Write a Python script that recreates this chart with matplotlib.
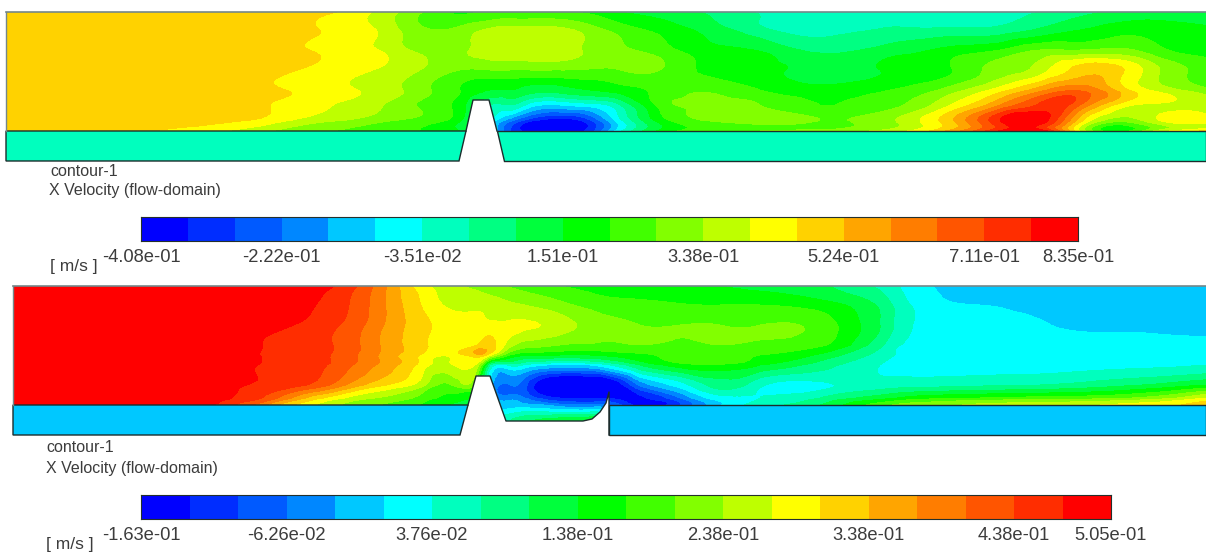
import numpy as np
import matplotlib
matplotlib.use("Agg")
import matplotlib.pyplot as plt
import matplotlib.tri as mtri
from matplotlib.colors import ListedColormap
from matplotlib.patches import Polygon

plt.rcParams['font.family'] = ['Liberation Sans', 'DejaVu Sans']

# Contour band number at each grid node (0 = lowest legend band, 19 = highest)
top_x = [6,100,200,260,300,340,380,420,460,490,510,530,560,590,620,660,700,760,820,880,920,960,1000,1040,1080,1120,1160,1206]
top_y = [12,30,50,70,90,105,120,131]
top_field = [
 [14.6,14.6,14.6,14.6,14.5,13.94,12.7,11.1,9.8,10.2,10.2,10.1,10.0,9.8,9.0,8.5,8.0,6.9,6.5,6.4,6.4,6.5,6.7,7.0,7.6,8.2,8.4,8.5],
 [14.6,14.6,14.6,14.6,14.3,13.72,12.86,11.25,11.3,12.2,12.4,12.4,12.3,11.5,10.6,9.7,8.8,7.3,6.6,7.1,7.2,7.3,7.4,8.2,9.0,9.6,9.5,9.2],
 [14.6,14.6,14.6,14.6,14.15,13.6,12.97,11.7,11.7,12.5,12.6,12.6,12.5,11.8,11.2,10.5,9.5,8.9,7.7,8.3,8.8,9.5,10.0,11.0,11.0,11.2,10.2,9.7],
 [14.6,14.6,14.6,14.45,13.96,13.45,12.88,12.0,11.0,11.0,11.0,11.0,11.0,10.9,11.0,11.0,9.9,9.3,8.7,9.0,9.5,10.2,11.5,12.5,14.5,14.2,12.0,10.5],
 [14.6,14.6,14.6,14.3,13.8,13.25,12.57,11.4,10.0,9.0,9.0,8.5,8.5,9.0,9.5,10.3,10.9,10.0,9.3,9.8,10.5,11.8,13.5,15.6,16.8,14.6,12.6,11.3],
 [14.6,14.6,14.6,14.15,13.55,12.9,12.1,10.9,9.5,7.0,7.0,5.5,5.0,5.5,7.0,10.3,11.2,11.0,10.0,10.5,11.5,13.5,16.0,18.2,17.0,13.6,12.8,12.2],
 [14.6,14.6,14.5,13.85,12.8,12.1,11.35,10.7,9.2,6.0,3.5,1.5,0.5,2.0,5.8,9.5,11.0,11.5,11.0,11.5,13.0,15.5,19.0,19.8,14.5,11.5,13.1,13.4],
 [14.5,14.4,13.5,12.25,11.4,10.9,10.5,10.0,9.0,5.5,2.0,0.5,0.1,1.5,5.8,9.2,10.5,11.0,11.2,12.2,13.5,16.0,19.1,19.8,13.0,9.5,12.5,14.1],
]

bot_x = [13,100,200,260,300,340,380,420,450,475,490,510,530,560,590,610,640,680,720,760,820,880,920,980,1040,1100,1160,1206]
bot_y = [286,305,325,345,355,365,385,398,405,421]
bot_field = [
 [19.9,19.9,19.9,19.9,19.6,18.8,16.5,13.5,12.5,11.7,11.2,10.9,10.5,10.0,9.7,9.5,9.3,9.1,9.0,8.7,8.2,6.8,5.2,4.6,4.5,4.5,4.5,4.5],
 [19.9,19.9,19.9,19.9,19.3,18.35,16.35,14.05,12.85,12.8,12.6,12.2,11.9,11.3,10.7,10.4,10.3,10.1,10.0,10.0,9.5,7.8,5.6,5.0,4.5,4.5,4.5,4.5],
 [19.9,19.9,19.9,19.6,18.9,18.0,16.2,14.45,13.5,13.4,13.3,13.2,13.1,12.5,11.7,11.3,11.0,11.0,11.0,11.0,10.6,8.0,5.8,5.6,5.1,4.8,4.8,4.8],
 [19.9,19.9,19.9,19.05,18.45,17.8,16.0,14.3,13.5,13.8,14.3,12.4,11.5,11.0,10.9,10.8,11.0,10.8,11.0,10.8,10.2,7.3,5.5,5.4,5.4,5.4,5.3,5.2],
 [19.9,19.9,19.85,19.0,18.4,17.7,15.9,14.0,13.3,14.6,13.2,10.0,9.2,9.0,9.0,9.3,9.8,10.4,10.4,10.0,8.8,6.6,5.5,5.5,5.5,5.5,5.5,5.6],
 [19.9,19.9,19.8,18.95,18.4,17.55,15.8,13.7,12.8,13.0,7.0,6.2,5.5,4.8,5.0,6.0,8.0,9.5,9.8,9.0,7.5,6.0,5.5,5.6,5.6,5.7,5.8,6.0],
 [19.9,19.9,19.8,18.85,18.2,16.35,14.25,12.5,10.9,11.0,4.5,3.0,1.5,-1.0,-1.0,-0.5,3.2,5.5,7.5,6.2,5.8,6.4,6.6,6.8,7.0,7.5,8.2,9.0],
 [19.9,19.9,19.6,18.1,15.35,13.2,11.9,10.7,9.7,8.5,4.5,3.5,2.5,1.0,0.8,0.8,0.8,3.0,5.6,6.0,7.0,8.5,9.5,10.0,10.3,10.6,11.5,13.0],
 [19.8,19.7,19.4,16.5,13.7,12.0,11.0,10.0,9.0,8.0,5.0,4.5,4.3,3.5,3.2,3.0,0.5,2.0,4.9,6.5,8.0,10.5,11.5,12.2,12.5,13.0,13.6,14.5],
 [19.8,19.7,19.4,16.5,13.7,12.0,11.0,10.0,9.0,8.0,6.5,7.0,8.0,8.8,9.0,9.0,0.5,2.0,4.9,6.5,8.0,10.5,11.5,12.2,12.5,13.0,13.6,14.5],
]

band_colors = ['#0000ff','#002dff','#005aff','#0087ff','#00c8ff','#00ffff','#00ffbe','#00ff82','#00ff3c','#00ff00',
               '#41ff00','#82ff00','#beff00','#ffff00','#ffd200','#ffa500','#ff7d00','#ff5500','#ff2d00','#ff0000']
band_numbers = list(range(21))

top_tick_labels = ['-4.08e-01','-2.22e-01','-3.51e-02','1.51e-01','3.38e-01','5.24e-01','7.11e-01','8.35e-01']
bot_tick_labels = ['-1.63e-01','-6.26e-02','3.76e-02','1.38e-01','2.38e-01','3.38e-01','4.38e-01','5.05e-01']
top_tick_bands = [0,3,6,9,12,15,18,20]
bot_tick_bands = [0,3,6,9,12,15,18,20]
top_solid_band = 6.5
bot_solid_band = 4.5

cmap = ListedColormap(band_colors)
TEXT = '#3c3c3c'
LINE = '#1c2c2c'
EDGE = '#74878a'

fig = plt.figure(figsize=(12.06, 5.54), dpi=100)
ax = fig.add_axes([0, 0, 1, 1])
ax.set_xlim(0, 1206)
ax.set_ylim(554, 0)
ax.axis('off')


def field(xs, ys, zz, outline):
    # refine on the node-index lattice, where the triangles are well shaped, then map to pixels
    ix = np.arange(len(xs)); iy = np.arange(len(ys))
    I, J = np.meshgrid(ix, iy)
    tri = mtri.Triangulation(I.ravel().astype(float), J.ravel().astype(float))
    fine, zfine = mtri.UniformTriRefiner(tri).refine_field(np.array(zz, dtype=float).ravel(), subdiv=3)
    mapped = mtri.Triangulation(np.interp(fine.x, ix, xs), np.interp(fine.y, iy, ys), fine.triangles)
    cs = ax.tricontourf(mapped, zfine, levels=band_numbers, cmap=cmap, vmin=0, vmax=20, extend='both', antialiased=False)
    clip = Polygon(outline, closed=True, transform=ax.transData, facecolor='none', edgecolor='none')
    ax.add_patch(clip)
    cs.set_clip_path(clip)


def solid(points, band):
    ax.add_patch(Polygon(points, closed=True, facecolor=band_colors[int(band)], edgecolor=LINE, linewidth=1.0, zorder=3))


def colorbar(x0, x1, y0, y1, tick_bands, labels, label_y):
    cax = fig.add_axes([x0 / 1206, 1 - y1 / 554, (x1 - x0) / 1206, (y1 - y0) / 554])
    cax.pcolormesh(band_numbers, [0, 1], np.arange(20).reshape(1, -1), cmap=cmap, vmin=0, vmax=20, shading='flat')
    cax.set_xticks([]); cax.set_yticks([])
    for s in cax.spines.values():
        s.set_linewidth(0.8); s.set_color('#24302c')
    for b, t in zip(tick_bands, labels):
        ax.text(x0 + (x1 - x0) * b / 20, label_y, t, ha='center', va='center', fontsize=13.2, color=TEXT)


# Upper case: plain rib
top_outline = [(6,12),(1206,12),(1206,131),(497,131),(489,100),(473,100),(466,131),(6,131)]
field(top_x, top_y, top_field, top_outline)
ax.plot([6,1206],[12,12], color=EDGE, lw=1.2, zorder=4)
ax.plot([6,6],[12,131], color=EDGE, lw=1.0, zorder=4)
solid([(6,131),(466,131),(459,161),(6,161)], top_solid_band)
solid([(497,131),(1206,131),(1206,161),(504,161)], top_solid_band)
ax.plot([466,473,489,497],[131,100,100,131], color=LINE, lw=1.0, zorder=4)

# Lower case: rib with cavity
bot_outline = [(13,286),(1206,286),(1206,405),(609,405),(609,392),(606,403),(600,412),(592,419),(583,421),(506,421),(490,376),(476,376),(468,405),(13,405)]
field(bot_x, bot_y, bot_field, bot_outline)
ax.plot([13,1206],[286,286], color=EDGE, lw=1.2, zorder=4)
ax.plot([13,13],[286,405], color=EDGE, lw=1.0, zorder=4)
solid([(13,405),(468,405),(460,435),(13,435)], bot_solid_band)
solid([(609,405),(1206,405),(1206,435),(609,435)], bot_solid_band)
ax.plot([468,476,490,506,583,592,600,606,609,609],[405,376,376,421,421,419,412,403,392,435], color=LINE, lw=1.0, zorder=4)

colorbar(141, 1078, 217, 241, top_tick_bands, top_tick_labels, 257)
colorbar(141, 1111, 495, 519, bot_tick_bands, bot_tick_labels, 535)

for x, y, s in [(50,172,'contour-1'),(49,191,'X Velocity (flow-domain)'),(46,448,'contour-1'),(46,468,'X Velocity (flow-domain)')]:
    ax.text(x, y, s, ha='left', va='center', fontsize=11.5, color=TEXT)
ax.text(50, 267, '[ m/s ]', ha='left', va='center', fontsize=12.5, color=TEXT)
ax.text(46, 545, '[ m/s ]', ha='left', va='center', fontsize=12.5, color=TEXT)

fig.savefig('out.png', dpi=100)
